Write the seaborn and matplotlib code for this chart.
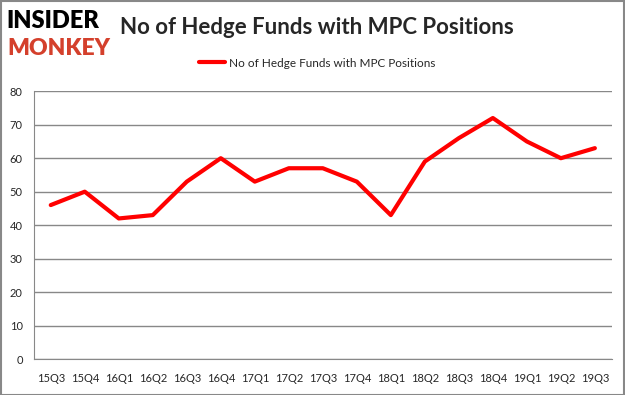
import pandas as pd
import matplotlib.pyplot as plt
import seaborn as sns

# quarters and number of funds holding MPC
quarters = ["15Q3", "15Q4", "16Q1", "16Q2", "16Q3", "16Q4", "17Q1", "17Q2", "17Q3",
            "17Q4", "18Q1", "18Q2", "18Q3", "18Q4", "19Q1", "19Q2", "19Q3"]
funds = [46, 50, 42, 43, 53, 60, 53, 57, 57, 53, 43, 59, 66, 72, 65, 60, 63]
y_ticks = [0, 10, 20, 30, 40, 50, 60, 70, 80]

df = pd.DataFrame({"quarter": quarters, "funds": funds, "pos": range(len(quarters))})

sns.set_style("white")
plt.rcParams["font.family"] = ["Lato", "DejaVu Sans"]

fig = plt.figure(figsize=(6.25, 3.95), dpi=100)
ax = fig.add_axes([0.054, 0.091, 0.925, 0.678])

sns.lineplot(data=df, x="pos", y="funds", color="#ff0000", linewidth=3,
             label="No of Hedge Funds with MPC Positions", ax=ax)

# excel style axes
ax.set_xlim(-0.5, len(quarters) - 0.5)
ax.set_ylim(0, 80)
ax.set_yticks(y_ticks)
ax.yaxis.grid(True, color="#888888", linewidth=1)
ax.set_xticks([i - 0.5 for i in range(len(quarters) + 1)])
ax.set_xticklabels([])
ax.set_xticks(range(len(quarters)), minor=True)
ax.set_xticklabels(quarters, minor=True, fontsize=8)
ax.tick_params(axis="x", which="major", length=5, color="#888888", direction="out")
ax.tick_params(axis="x", which="minor", length=0, pad=10)
ax.tick_params(axis="y", length=5, color="#888888", labelsize=8, direction="out", pad=3)
ax.set_xlabel("")
ax.set_ylabel("")
for side in ["top", "right"]:
    ax.spines[side].set_visible(False)
for side in ["left", "bottom"]:
    ax.spines[side].set_color("#888888")

ax.legend(loc="lower center", bbox_to_anchor=(0.49, 1.045), frameon=False,
          fontsize=8.5, handlelength=2.2, handletextpad=0.3)

# title and logo
fig.text(0.192, 0.93, "No of Hedge Funds with MPC Positions", fontsize=16,
         fontweight="bold", va="center", ha="left")
fig.text(0.01, 0.947, "INSIDER", fontsize=17, fontweight="heavy", color="black",
         va="center", ha="left")
fig.text(0.012, 0.878, "MONKEY", fontsize=16.5, fontweight="heavy", color="#d4402c",
         va="center", ha="left")

# grey frame round the picture
fig.patches.append(plt.Rectangle((0.001, 0.001), 0.997, 0.996, transform=fig.transFigure,
                                 fill=False, edgecolor="#888888", linewidth=1.5))

fig.savefig("out.png", dpi=100)
